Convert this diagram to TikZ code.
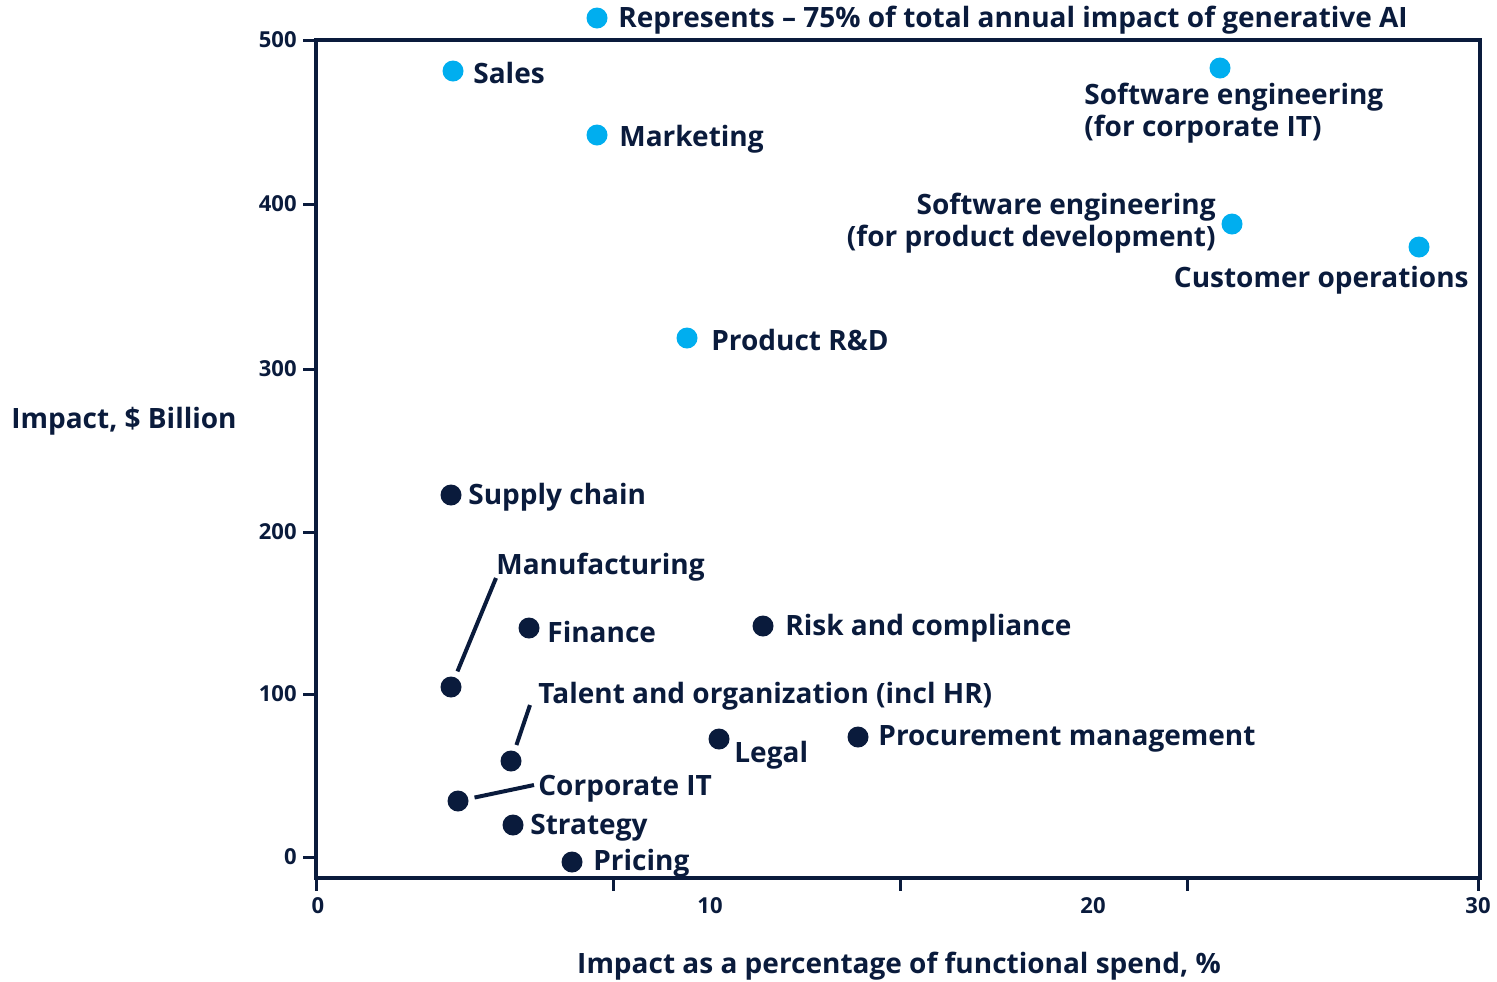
\documentclass[tikz,border=0pt]{standalone}
\usepackage{fontspec}
\setmainfont{Open Sans}
\definecolor{navy}{RGB}{10,27,60}
\definecolor{sky}{RGB}{0,174,239}
\tikzset{
  dotb/.style={circle,fill=sky,inner sep=0pt,minimum size=10.5pt},
  dotn/.style={circle,fill=navy,inner sep=0pt,minimum size=10.5pt},
  lbl/.style={anchor=west,inner sep=0pt,text=navy,font=\bfseries\fontsize{14}{16}\selectfont},
  tlbl/.style={inner sep=0pt,text=navy,font=\bfseries\fontsize{11}{13}\selectfont},
  lead/.style={navy,line width=2pt,shorten <=3pt}
}
\begin{document}
\begin{tikzpicture}[x=0.5pt,y=-0.5pt]
\useasboundingbox (0,0) rectangle (1497,981);
% frame and ticks
\draw[navy,line width=2.4pt] (316,40) rectangle (1480,878);
\foreach \yy/\t in {40/500,204/400,369/300,532/200,694/100,857/0}{
  \draw[navy,line width=1.5pt] (303,\yy) -- (316,\yy);
  \node[tlbl,anchor=east] at (297,\yy) {\t};
}
\foreach \xx in {316,613,900,1187,1478}
  \draw[navy,line width=1.5pt] (\xx,878) -- (\xx,891);
\node[tlbl] (X0) at (318,906) {0};
\node[tlbl] (X1) at (710,906) {10};
\node[tlbl] (X2) at (1093,906) {20};
\node[tlbl] (X3) at (1478,906) {30};
\node[lbl,anchor=center] (YT) at (124,421) {Impact, \$ Billion};
\node[lbl,anchor=center] (XT) at (899,966) {Impact as a percentage of functional spend, \%};
% blue points
\node[dotb] (B0) at (597,18) {};
\node[lbl] (M0) at (618,20) {Represents – 75\% of total annual impact of generative AI};
\node[dotb] (B1) at (453,71) {};
\node[lbl] (M1) at (473,73) {Sales};
\node[dotb] (B2) at (597,135) {};
\node[lbl] (M2) at (619,139) {Marketing};
\node[dotb] (B3) at (1220,68) {};
\node[lbl,anchor=north west,align=left] (M3) at (1084,83) {Software engineering\\(for corporate IT)};
\node[dotb] (B4) at (1232,224) {};
\node[lbl,anchor=east,align=right] (M4) at (1216,223) {Software engineering\\(for product development)};
\node[dotb] (B5) at (1419,247) {};
\node[lbl,anchor=east] (M5) at (1469,280) {Customer operations};
\node[dotb] (B6) at (687,338) {};
\node[lbl] (M6) at (711,340) {Product R\&D};
% navy points
\node[dotn] (N1) at (451,495) {};
\node[lbl] (L1) at (468,497) {Supply chain};
\node[dotn] (N2) at (451,687) {};
\node[lbl] (L2) at (496,567) {Manufacturing};
\node[dotn] (N3) at (529,628) {};
\node[lbl] (L3) at (547,632) {Finance};
\node[dotn] (N4) at (763,626) {};
\node[lbl] (L4) at (785,628) {Risk and compliance};
\node[dotn] (N5) at (511,761) {};
\node[lbl] (L5) at (538,696) {Talent and organization (incl HR)};
\node[dotn] (N6) at (719,739) {};
\node[lbl] (L6) at (734,755) {Legal};
\node[dotn] (N7) at (858,737) {};
\node[lbl] (L7) at (878,739) {Procurement management};
\node[dotn] (N8) at (458,801) {};
\node[lbl] (L8) at (538,789) {Corporate IT};
\node[dotn] (N9) at (513,825) {};
\node[lbl] (L9) at (530,828) {Strategy};
\node[dotn] (N10) at (572,862) {};
\node[lbl] (L10) at (593,863) {Pricing};
% leader lines
\coordinate (E2) at (496,578);
\coordinate (E5) at (530,705);
\coordinate (E8) at (534,785);
\draw[lead] (N2) -- (E2);
\draw[lead] (N5) -- (E5);
\draw[lead] (N8) -- (E8);
\end{tikzpicture}
\end{document}
